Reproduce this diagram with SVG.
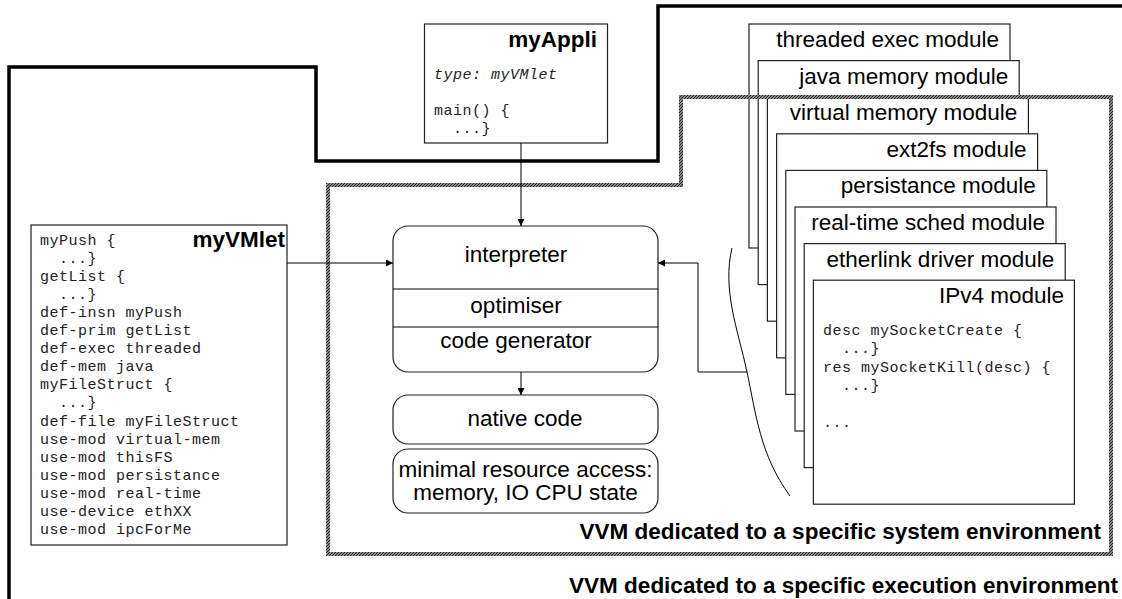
<svg xmlns="http://www.w3.org/2000/svg" width="1122" height="599" viewBox="0 0 1122 599">
  <style>
    .sans { font-family: "Liberation Sans", Arial, sans-serif; font-size: 22.5px; fill: #000; }
    .bold { font-family: "Liberation Sans", Arial, sans-serif; font-size: 22.5px; font-weight: bold; fill: #000; }
    .mono { font-family: "Liberation Mono", "Courier New", monospace; font-size: 15px; letter-spacing: 0.5px; fill: #222; }
    .box { fill: #fff; stroke: #222; stroke-width: 1.2; }
    .mod { fill: #fff; stroke: #222; stroke-width: 1.2; }
    .wire { fill: none; stroke: #000; stroke-width: 1; }
    .env { fill: none; stroke: #000; stroke-width: 3.5; stroke-linejoin: miter; }
    .sys { fill: none; stroke: url(#hatch); stroke-width: 4; }
  </style>
  <defs>
    <pattern id="hatch" patternUnits="userSpaceOnUse" width="3" height="3">
      <rect width="3" height="3" fill="#b8b8b8"/>
      <path d="M-1,1 L1,-1 M0,3 L3,0 M2,4 L4,2" stroke="#202020" stroke-width="1.2"/>
    </pattern>
    <marker id="arrow" viewBox="0 0 10 10" refX="10" refY="5" markerWidth="9" markerHeight="7" markerUnits="userSpaceOnUse" orient="auto">
      <path d="M0,0 L10,5 L0,10 Z" fill="#000"/>
    </marker>
  </defs>

  <rect width="1122" height="599" fill="#fff"/>

  <!-- execution environment boundary -->
  <path id="exec-env" class="env" d="M9,599 V67 H316 V161 H658 V6 H1124"/>

  <!-- application -->
  <g id="myAppli">
    <rect class="box" x="424.5" y="24" width="183" height="119"/>
    <text class="bold" x="597" y="47" text-anchor="end">myAppli</text>
    <text class="mono" x="434" y="79" font-style="italic">type: myVMlet</text>
    <text class="mono" x="434" y="115">main() {</text>
    <text class="mono" x="434" y="133" xml:space="preserve">  ...}</text>
  </g>

  <!-- VMlet description -->
  <g id="myVMlet">
    <rect class="box" x="31" y="225" width="256" height="320"/>
    <text class="bold" x="285" y="247" text-anchor="end">myVMlet</text>
    <text class="mono" x="40" y="244.5" xml:space="preserve">myPush {</text>
    <text class="mono" x="40" y="262.6" xml:space="preserve">  ...}</text>
    <text class="mono" x="40" y="280.7">getList {</text>
    <text class="mono" x="40" y="298.8" xml:space="preserve">  ...}</text>
    <text class="mono" x="40" y="316.9">def-insn myPush</text>
    <text class="mono" x="40" y="335">def-prim getList</text>
    <text class="mono" x="40" y="353.1">def-exec threaded</text>
    <text class="mono" x="40" y="371.2">def-mem java</text>
    <text class="mono" x="40" y="389.3">myFileStruct {</text>
    <text class="mono" x="40" y="407.4" xml:space="preserve">  ...}</text>
    <text class="mono" x="40" y="425.5">def-file myFileStruct</text>
    <text class="mono" x="40" y="443.6">use-mod virtual-mem</text>
    <text class="mono" x="40" y="461.7">use-mod thisFS</text>
    <text class="mono" x="40" y="479.8">use-mod persistance</text>
    <text class="mono" x="40" y="497.9">use-mod real-time</text>
    <text class="mono" x="40" y="516">use-device ethXX</text>
    <text class="mono" x="40" y="534.1">use-mod ipcForMe</text>
  </g>

  <!-- core: interpreter / optimiser / code generator -->
  <g id="core">
    <rect class="box" x="393" y="226" width="265" height="146" rx="15" ry="15"/>
    <line class="wire" x1="393" y1="289" x2="658" y2="289"/>
    <line class="wire" x1="393" y1="327" x2="658" y2="327"/>
    <text class="sans" x="516" y="262" text-anchor="middle">interpreter</text>
    <text class="sans" x="516" y="313" text-anchor="middle">optimiser</text>
    <text class="sans" x="516" y="348" text-anchor="middle">code generator</text>
  </g>

  <g id="native-code">
    <rect class="box" x="393" y="395" width="265" height="49" rx="15" ry="15"/>
    <text class="sans" x="525" y="426" text-anchor="middle">native code</text>
  </g>

  <g id="minimal-access">
    <rect class="box" x="393" y="449" width="265" height="64" rx="15" ry="15"/>
    <text class="sans" x="525.5" y="477" text-anchor="middle">minimal resource access:</text>
    <text class="sans" x="525.5" y="500" text-anchor="middle">memory, IO CPU state</text>
  </g>

  <!-- stacked modules -->
  <g id="mod-threaded">
    <rect class="mod" x="749" y="24" width="261" height="224"/>
    <text class="sans" x="999" y="47" text-anchor="end">threaded exec module</text>
  </g>
  <g id="mod-java-memory">
    <rect class="mod" x="758.2" y="60.6" width="261" height="224"/>
    <text class="sans" x="1008.2" y="83.6" text-anchor="end">java memory module</text>
  </g>
  <g id="mod-virtual-memory">
    <rect class="mod" x="767.4" y="97.2" width="261" height="224"/>
    <text class="sans" x="1017.4" y="120.2" text-anchor="end">virtual memory module</text>
  </g>
  <g id="mod-ext2fs">
    <rect class="mod" x="776.6" y="133.8" width="261" height="224"/>
    <text class="sans" x="1026.6" y="156.8" text-anchor="end">ext2fs module</text>
  </g>
  <g id="mod-persistance">
    <rect class="mod" x="785.8" y="170.4" width="261" height="224"/>
    <text class="sans" x="1035.8" y="193.4" text-anchor="end">persistance module</text>
  </g>
  <g id="mod-realtime">
    <rect class="mod" x="795" y="207" width="261" height="224"/>
    <text class="sans" x="1045" y="230" text-anchor="end">real-time sched module</text>
  </g>
  <g id="mod-etherlink">
    <rect class="mod" x="804.2" y="243.6" width="261" height="224"/>
    <text class="sans" x="1054.2" y="266.6" text-anchor="end">etherlink driver module</text>
  </g>
  <g id="mod-ipv4">
    <rect class="mod" x="813.4" y="280.2" width="261" height="224"/>
    <text class="sans" x="1064" y="303.2" text-anchor="end">IPv4 module</text>
    <text class="mono" x="823" y="335">desc mySocketCreate {</text>
    <text class="mono" x="823" y="353.3" xml:space="preserve">  ...}</text>
    <text class="mono" x="823" y="371.6">res mySocketKill(desc) {</text>
    <text class="mono" x="823" y="389.9" xml:space="preserve">  ...}</text>
    <text class="mono" x="823" y="426.5">...</text>
  </g>

  <!-- system environment boundary -->
  <g id="system-env">
    <path class="sys" d="M328,554 V185 H681 V97 H1111 V554 Z"/>
    <text class="bold" x="1101" y="539" text-anchor="end">VVM dedicated to a specific system environment</text>
  </g>

  <text id="exec-env-label" class="bold" x="1118" y="593" text-anchor="end">VVM dedicated to a specific execution environment</text>

  <!-- connectors -->
  <g id="connectors">
    <path class="wire" d="M732,248 C722,290 738,330 747,372 S760,455 790,496"/>
    <path class="wire" d="M521,143 V226" marker-end="url(#arrow)"/>
    <path class="wire" d="M287,263 H393" marker-end="url(#arrow)"/>
    <path class="wire" d="M521,372 V395" marker-end="url(#arrow)"/>
    <path class="wire" d="M747,372 H698 V263 H658" marker-end="url(#arrow)"/>
  </g>
</svg>
